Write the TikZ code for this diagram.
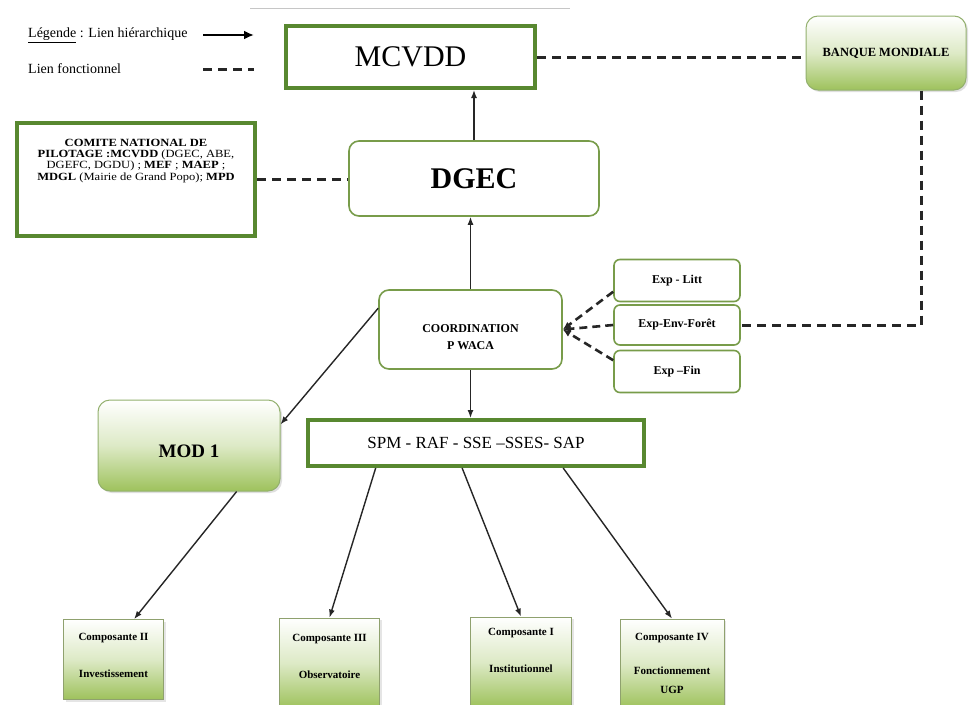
\documentclass[tikz,border=0pt]{standalone}
\usepackage{graphicx}
\usepackage{fontspec}
\setmainfont{Liberation Serif}
\usetikzlibrary{arrows.meta,shadows,calc}
\definecolor{gdark}{RGB}{88,136,48}
\definecolor{gline}{RGB}{120,156,74}
\definecolor{gfill}{RGB}{158,194,92}
\tikzset{
  thickbox/.style={draw=gdark, line width=4pt, fill=white, inner sep=0pt},
  roundbox/.style={draw=gline, line width=1.6pt, rounded corners=10pt, fill=white, inner sep=0pt},
  expbox/.style={draw=gline, line width=1.6pt, rounded corners=6pt, fill=white, inner sep=0pt,
     minimum width=126pt, font=\bfseries\fontsize{12}{14}\selectfont},
  gradbox/.style={draw=gline!80, line width=1pt, rounded corners=12pt, top color=white,
     bottom color=gfill, middle color=gfill!35, inner sep=0pt,
     drop shadow={opacity=0.25, shadow xshift=2pt, shadow yshift=-2pt}},
  compbox/.style={draw=gray!50!gfill, line width=0.8pt, top color=white, bottom color=gfill,
     middle color=gfill!35, inner sep=0pt,
     drop shadow={opacity=0.2, shadow xshift=2pt, shadow yshift=-2pt}},
  comptext/.style={align=center, inner sep=0pt, font=\bfseries\fontsize{11}{19}\selectfont},
  arr/.style={-{Latex[length=8pt,width=6pt]}, line width=1.4pt, draw=black!85},
  fline/.style={line width=3pt, dash pattern=on 9pt off 6pt, draw=black!85},
  expline/.style={line width=2.6pt, dash pattern=on 8pt off 5pt, draw=black!85,
     -{Latex[length=8pt,width=7pt]}},
}
\begin{document}
\begin{tikzpicture}[x=1pt,y=-1pt]
\useasboundingbox (0,0) rectangle (974,704);
\fill[white] (0,0) rectangle (974,704);

% top rule
\coordinate (rA) at (250,8);
\coordinate (rB) at (570,8);
\draw[gray!45, line width=1pt] (rA) -- (rB);

% legend
\node[anchor=west, inner sep=0pt, font=\fontsize{14}{16}\selectfont] (leg1) at (28,35)
  {\underline{Légende} : Lien hiérarchique};
\node[anchor=west, inner sep=0pt, font=\fontsize{14}{16}\selectfont] (leg2) at (28,69)
  {Lien fonctionnel};
\coordinate (la1) at (203,35); \coordinate (la2) at (254,35);
\draw[-{Latex[length=10pt,width=9pt]}, line width=2.6pt] (la1) -- (la2);
\coordinate (lb1) at (203,69); \coordinate (lb2) at (254,69);
\draw[fline] (lb1) -- (lb2);

% main nodes
\node[thickbox, minimum width=249pt, minimum height=62pt,
      font=\fontsize{30}{32}\selectfont] (mcvdd) at (410.5,57) {MCVDD};
\node[gradbox, minimum width=160pt, minimum height=74pt,
      font=\bfseries\fontsize{12.5}{14}\selectfont] (bm) at (886,53) {BANQUE MONDIALE};

\node[thickbox, minimum width=238pt, minimum height=113pt] (comite) at (136,179.5) {};
\node[inner sep=0pt, font=\fontsize{11}{11.2}\selectfont] (comitetxt) at (136,161)
  {\scalebox{1.14}[1]{\begin{tabular}{@{}c@{}}
   \textbf{COMITE NATIONAL DE}\\
   \textbf{PILOTAGE :MCVDD} (DGEC, ABE,\\
   DGEFC, DGDU) ; \textbf{MEF} ; \textbf{MAEP} ;\\
   \textbf{MDGL} (Mairie de Grand Popo); \textbf{MPD}
   \end{tabular}}};

\node[roundbox, minimum width=250pt, minimum height=75pt,
      font=\bfseries\fontsize{30}{32}\selectfont] (dgec) at (474,178.5) {DGEC};

\node[roundbox, minimum width=183pt, minimum height=79pt] (coord) at (470.5,329.5) {};
\node[align=center, inner sep=0pt, font=\bfseries\fontsize{12}{17.5}\selectfont] (coordtxt)
  at (470.5,337) {COORDINATION\\P WACA};

\node[expbox, minimum height=42pt] (e1) at (677,280.5) {Exp - Litt};
\node[expbox, minimum height=40pt] (e2) at (677,325) {Exp-Env-Forêt};
\node[expbox, minimum height=42pt] (e3) at (677,371.5) {Exp –Fin};

\node[gradbox, minimum width=182pt, minimum height=91pt] (mod) at (189,445.5) {};
\node[inner sep=0pt, font=\bfseries\fontsize{19}{21}\selectfont] (modtxt) at (189,451) {MOD 1};

\node[thickbox, minimum width=336pt, minimum height=46pt,
      font=\fontsize{17}{19}\selectfont] (spm) at (476,443) {SPM - RAF - SSE –SSES- SAP};

% components
\node[compbox, minimum width=100pt, minimum height=80pt] (c2) at (113.5,659.5) {};
\node[comptext] (c2t) at (113.5,655) {Composante II\\[18pt]Investissement};
\node[compbox, minimum width=100pt, minimum height=90pt] (c3) at (329.5,663) {};
\node[comptext] (c3t) at (329.5,656) {Composante III\\[18pt]Observatoire};
\node[compbox, minimum width=101pt, minimum height=90pt] (c1) at (521,662) {};
\node[comptext] (c1t) at (521,650.5) {Composante I\\[18pt]Institutionnel};
\node[compbox, minimum width=104pt, minimum height=89pt] (c4) at (672,663.5) {};
\node[comptext] (c4t) at (672,663.5) {Composante IV\\[15pt]Fonctionnement\\UGP};

% hierarchical links
\draw[arr] (dgec.north) -- (dgec.north |- mcvdd.south);
\draw[arr] (coord.north) -- (coord.north |- dgec.south);
\draw[arr] (coord.south) -- (coord.south |- spm.north);
\draw[arr] (coord.167) -- (mod.13);
\draw[arr] (mod.-44) -- (c2.63);
\draw[arr] (spm.194) -- (c3.north);
\draw[arr] (spm.241) -- (c1.north);
\draw[arr] (spm.-16.6) -- (c4.north);

% functional links
\draw[fline] (mcvdd.east) -- (mcvdd.east -| bm.west);
\draw[fline] (comite.east) -- (comite.east -| dgec.west);
\coordinate (bmcorner) at (921,325);
\draw[fline] (bm.south -| bmcorner) -- (bmcorner) -- (e2.east);
\draw[expline] (e1.190) -- (coord.east);
\draw[expline] (e2.west) -- (coord.east);
\draw[expline] (e3.170) -- (coord.east);
\end{tikzpicture}
\end{document}
